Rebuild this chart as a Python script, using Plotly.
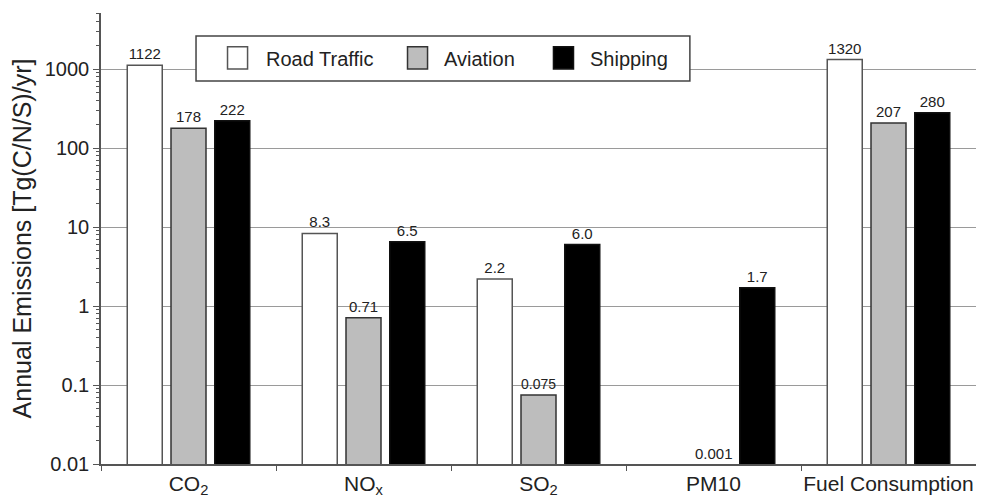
import plotly.graph_objects as go

categories = ["CO<sub>2</sub>", "NO<sub>x</sub>", "SO<sub>2</sub>", "PM10", "Fuel Consumption"]
road = [1122, 8.3, 2.2, None, 1320]
aviation = [178, 0.71, 0.075, 0.001, 207]
shipping = [222, 6.5, 6.0, 1.7, 280]
road_labels = ["1122", "8.3", "2.2", "", "1320"]
aviation_labels = ["178", "0.71", "0.075", "0.001", "207"]
shipping_labels = ["222", "6.5", "6.0", "1.7", "280"]
series_names = ["Road Traffic", "Aviation", "Shipping"]

y_ticks = [0.01, 0.1, 1, 10, 100, 1000]
y_ticktext = ["0.01", "0.1", "1", "10", "100", "1000"]
minor_vals = [m * 10**e for e in range(-2, 4) for m in range(2, 10)]

FONT = "Liberation Sans, Arial, sans-serif"
TXT = "#222"
LINE = "#555"
fills = ["white", "#bdbdbd", "black"]
edges = ["#555", "#333", "#111"]

def in_range(v):
    return v is not None and v >= 0.01

fig = go.Figure()
for name, vals, labels, fill, edge in zip(series_names, [road, aviation, shipping],
                                          [road_labels, aviation_labels, shipping_labels],
                                          fills, edges):
    fig.add_trace(go.Bar(
        name=name, x=categories, y=vals,
        text=labels,
        textposition=["outside" if in_range(v) else "none" for v in vals],
        textfont=dict(family=FONT, size=15, color=TXT),
        marker=dict(color=fill, line=dict(color=edge, width=1.5)),
        cliponaxis=False, showlegend=False,
    ))

# label for the aviation PM10 value below the axis range
for i, v in enumerate(aviation):
    if v is not None and v < 0.01:
        fig.add_annotation(x=categories[i], y=-2, xref="x", yref="y",
                           text=aviation_labels[i], showarrow=False,
                           yanchor="bottom", yshift=0,
                           font=dict(family=FONT, size=15, color=TXT))

# legend box drawn in paper coordinates
fig.add_shape(type="rect", xref="paper", yref="paper",
              x0=0.1086, x1=0.673, y0=0.849, y1=0.949,
              fillcolor="white", line=dict(color="#444", width=1.5), layer="above")
sym_x = [0.1446, 0.3503, 0.5171]
txt_x = [0.1863, 0.3897, 0.5566]
for sx, tx, name, fill, edge in zip(sym_x, txt_x, series_names, fills, edges):
    fig.add_shape(type="rect", xref="paper", yref="paper",
                  x0=sx, x1=sx + 0.0229, y0=0.876, y1=0.925,
                  fillcolor=fill, line=dict(color=edge, width=1.5), layer="above")
    fig.add_annotation(xref="paper", yref="paper", x=tx, y=0.899,
                       xanchor="left", yanchor="middle", showarrow=False,
                       text=name, font=dict(family=FONT, size=20, color=TXT))

fig.update_layout(
    width=976, height=496,
    margin=dict(l=93, r=8, t=5, b=40, autoexpand=False),
    paper_bgcolor="white", plot_bgcolor="white",
    barmode="group", bargap=0.25, bargroupgap=0.2,
    font=dict(family=FONT, color=TXT),
    showlegend=False,
    xaxis=dict(
        type="category", range=[-0.5, 4.5], automargin=False, tickangle=0,
        showline=True, linecolor=LINE, linewidth=1.5,
        ticks="outside", tickson="boundaries", ticklen=5, tickcolor=LINE,
        tickfont=dict(family=FONT, size=21, color=TXT),
        showgrid=False,
    ),
    xaxis2=dict(
        overlaying="x", side="top", anchor="y", range=[-0.5, 4.5],
        showline=True, linecolor=LINE, linewidth=1.5,
        tickvals=[0.5, 1.5, 2.5, 3.5], ticks="outside", ticklen=5, tickcolor=LINE,
        showticklabels=False, showgrid=False, zeroline=False,
    ),
    yaxis=dict(
        type="log", range=[-2, 3.71], automargin=False,
        title=dict(text="Annual Emissions [Tg(C/N/S)/yr]", standoff=8,
                   font=dict(family=FONT, size=25, color=TXT)),
        tickvals=y_ticks, ticktext=y_ticktext,
        tickfont=dict(family=FONT, size=20, color=TXT),
        showline=True, linecolor=LINE, linewidth=1.5,
        ticks="outside", ticklen=6, tickcolor=LINE,
        showgrid=True, gridcolor="#9a9a9a", gridwidth=1,
        minor=dict(tickvals=minor_vals, ticks="outside", ticklen=3,
                   tickcolor=LINE, showgrid=False),
        zeroline=False,
    ),
    yaxis2=dict(
        type="log", range=[-2, 3.71], overlaying="y", side="right", anchor="x",
        tickvals=y_ticks, showticklabels=False,
        showline=True, linecolor=LINE, linewidth=1.5,
        ticks="outside", ticklen=6, tickcolor=LINE,
        minor=dict(tickvals=minor_vals, ticks="outside", ticklen=3,
                   tickcolor=LINE, showgrid=False),
        showgrid=False, zeroline=False,
    ),
)

fig.write_html("out.html")
